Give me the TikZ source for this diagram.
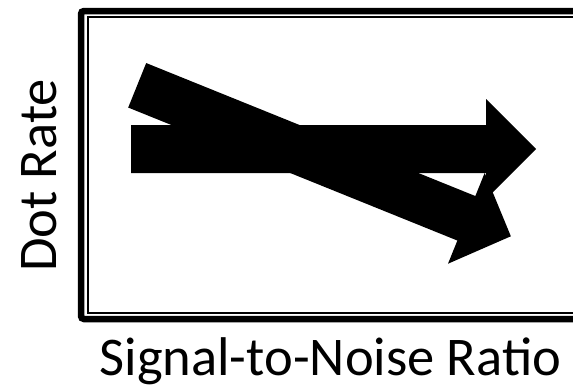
\documentclass[tikz,border=0pt]{standalone}
\usepackage{fontspec}
\setmainfont{Carlito}
\usetikzlibrary{positioning}
\tikzset{
  axislabel/.style={
    font=\fontsize{54.5}{61}\selectfont,
    inner sep=0pt,
    anchor=base
  },
  outerframe/.style={draw=black, line width=6.5pt, rounded corners=3pt},
  innerframe/.style={draw=black, line width=2pt},
  bigarrow/.style={fill=black, draw=none}
}

\begin{document}
\begin{tikzpicture}[x=1pt,y=-1pt]
    \useasboundingbox (0,0) rectangle (573,389);

    % frame, open towards the right edge
    \draw[outerframe] (620,11) -- (81,11) -- (81,319) -- (620,319);
    \draw[innerframe] (620,16.5) -- (87.7,16.5) -- (87.7,312.5) -- (620,312.5);

    % straight arrow
    \fill[bigarrow] (131,125) -- (486,125) -- (486,99) -- (536,149)
        -- (486,199) -- (486,173) -- (131,173) -- cycle;

    % sloping arrow
    \begin{scope}[shift={(137.2,85.3)}, rotate=-22]
      \fill[bigarrow] (0,-24) -- (355,-24) -- (355,-49) -- (403,0)
          -- (355,49) -- (355,24) -- (0,24) -- cycle;
    \end{scope}

    \node[axislabel] (xlabel) at (330.5,375) {Signal-to-Noise Ratio};
    \node[axislabel, rotate=90] (ylabel) at (56.7,175.5) {Dot Rate};
  \end{tikzpicture}
\end{document}
